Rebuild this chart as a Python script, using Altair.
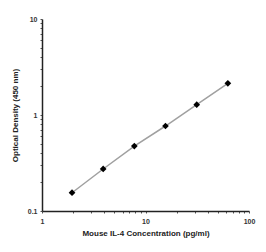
import altair as alt
import pandas as pd

conc = [1.95, 3.9, 7.8, 15.6, 31.25, 62.5]
od = [0.155, 0.274, 0.475, 0.768, 1.28, 2.14]
x_major = [1, 10, 100]
x_ticks = [1, 2, 3, 4, 5, 6, 7, 8, 9, 10, 20, 30, 40, 50, 60, 70, 80, 90, 100]
y_major = [0.1, 1, 10]
y_ticks = [0.1, 0.2, 0.3, 0.4, 0.5, 0.6, 0.7, 0.8, 0.9, 1, 2, 3, 4, 5, 6, 7, 8, 9, 10]

df = pd.DataFrame({"x": conc, "y": od})

W, H = 207, 192
FONT = "Liberation Sans"
xs = alt.Scale(type="log", domain=[1, 100], nice=False)
ys = alt.Scale(type="log", domain=[0.1, 10], nice=False)

xaxis = alt.Axis(orient="bottom", values=x_ticks, format="~g",
                 labelExpr="indexof([1, 10, 100], datum.value) >= 0 ? datum.label : ''",
                 title="Mouse IL-4 Concentration (pg/ml)",
                 grid=False, domainColor="#222", domainWidth=1.5,
                 ticks=True, tickSize=2, tickColor="#555", tickWidth=1,
                 labelFont=FONT, labelFontSize=7, labelFontWeight="bold", labelColor="#333",
                 labelPadding=4, titleFont=FONT, titleFontSize=8, titleFontWeight="bold",
                 titleColor="#222", titlePadding=5, labelFlush=False, labelOverlap=False)
yaxis = alt.Axis(orient="left", values=y_ticks, format="~g",
                 labelExpr="indexof([0.1, 1, 10], datum.value) >= 0 ? datum.label : ''",
                 title="Optical Density (450 nm)",
                 grid=False, domainColor="#222", domainWidth=1.5,
                 ticks=True, tickSize=2, tickColor="#555", tickWidth=1,
                 labelFont=FONT, labelFontSize=7, labelFontWeight="bold", labelColor="#333",
                 labelPadding=3, titleFont=FONT, titleFontSize=8, titleFontWeight="bold",
                 titleColor="#222", titlePadding=8, labelFlush=False, labelOverlap=False)

base = alt.Chart(df)
line = base.mark_line(color="#a0a0a0", strokeWidth=1.5).encode(
    x=alt.X("x:Q", scale=xs, axis=xaxis),
    y=alt.Y("y:Q", scale=ys, axis=yaxis),
)
pts = base.mark_point(shape="diamond", filled=True, color="#000", size=45, opacity=1).encode(
    x=alt.X("x:Q", scale=xs, axis=xaxis),
    y=alt.Y("y:Q", scale=ys, axis=yaxis),
)

chart = alt.layer(line, pts).properties(
    width=W, height=H,
    autosize=alt.AutoSizeParams(type="none"),
    padding={"left": 42, "top": 19, "right": 17, "bottom": 41},
).configure_view(stroke=None)

chart.save("out.html", embed_options={"renderer": "svg", "actions": False})
